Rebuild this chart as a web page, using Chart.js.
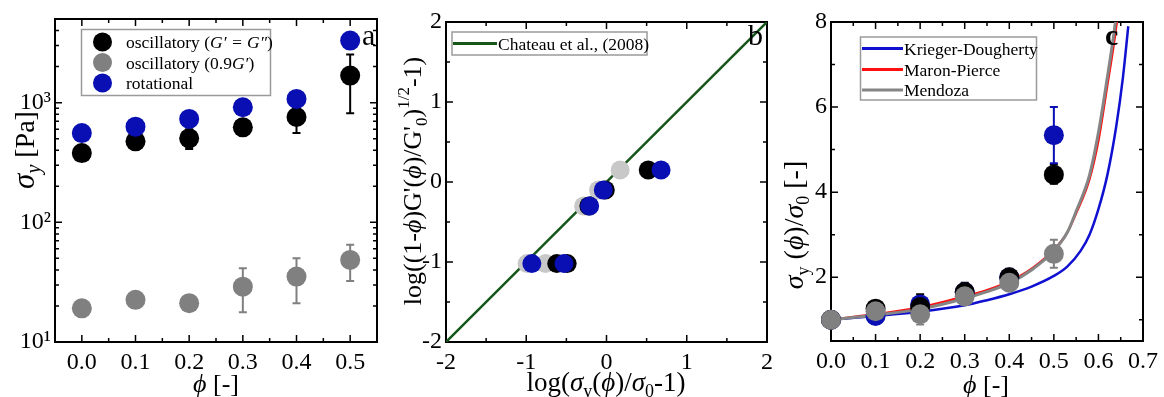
<!DOCTYPE html>
<html><head><meta charset="utf-8">
<script src="https://cdn.jsdelivr.net/npm/chart.js@4/dist/chart.umd.min.js"></script>
<style>
body{margin:0;background:#fff;width:1164px;height:397px;position:relative;overflow:hidden}
canvas{position:absolute;top:0}
</style></head>
<body>
<canvas id="ca" width="390" height="397" style="left:0"></canvas>
<canvas id="cb" width="390" height="397" style="left:390px"></canvas>
<canvas id="cc" width="384" height="397" style="left:780px"></canvas>
<script>
// ---------- Panel a data ----------
const phiA = [0.0, 0.1, 0.2, 0.3, 0.4, 0.5];
const oscGG = [379, 475, 503, 622, 759, 1683];
const oscGGLo = [null, null, 409, 550, 557, 815];
const oscGGHi = [null, null, 600, 690, 960, 2523];
const osc09 = [19.1, 22.5, 21.1, 29.0, 35.2, 48.5];
const osc09Lo = [16.3, null, null, 17.7, 21.1, 32.4];
const osc09Hi = [21.5, null, null, 41.4, 50.1, 64.8];
const rotA = [557, 630, 731, 915, 1074, 3300];
const aXTicks = [0.0, 0.1, 0.2, 0.3, 0.4, 0.5];
const aXMinor = [0.05, 0.15, 0.25, 0.35, 0.45];
const aYTicks = [10, 100, 1000];
const aYTickLabels = ['10\u00B9', '10\u00B2', '10\u00B3'];
const aYMinor = [20,30,40,50,60,70,80,90,200,300,400,500,600,700,800,900,2000,3000,4000,5000];

// ---------- Panel b data ----------
const bY = [-1.02, -1.02, -0.30, -0.10, 0.15];
const bGrayX = [-0.99, -0.76, -0.285, -0.10, 0.17];
const bBlackX = [-0.62, -0.49, -0.22, -0.015, 0.52];
const bBlueX = [-0.93, -0.53, -0.21, -0.04, 0.68];
const chateauX = [-2, 2];
const chateauY = [-2, 2];
const bTicks = [-2, -1, 0, 1, 2];
const bMinor = [-1.5, -0.5, 0.5, 1.5];

// ---------- Panel c data ----------
const phiC = [0.0, 0.1, 0.2, 0.3, 0.4, 0.5];
const cBlack = [1.0, 1.26, 1.30, 1.65, 2.0, 4.41];
const cBlackLo = [null, null, 1.1, 1.5, 1.85, 4.2];
const cBlackHi = [null, null, 1.6, 1.87, 2.15, 4.65];
const cBlue = [1.0, 1.09, 1.36, 1.65, 1.99, 5.34];
const cBlueLo = [null, null, null, null, null, 4.68];
const cBlueHi = [null, null, null, null, 2.2, 6.0];
const cGray = [1.0, 1.20, 1.13, 1.55, 1.87, 2.55];
const cGrayLo = [null, null, 0.89, null, null, 2.22];
const cGrayHi = [null, null, 1.3, null, null, 2.88];
const phiKD = [0, 0.1, 0.2, 0.3, 0.35, 0.4, 0.45, 0.5, 0.53, 0.56, 0.58, 0.6, 0.62, 0.64, 0.655, 0.667];
const valKD = [1.0, 1.09, 1.19, 1.34, 1.46, 1.6, 1.78, 2.03, 2.25, 2.62, 3.0, 3.6, 4.4, 5.55, 6.7, 7.9];
const phiMP = [0, 0.1, 0.2, 0.3, 0.35, 0.4, 0.45, 0.5, 0.53, 0.55, 0.58, 0.6, 0.62, 0.635, 0.648];
const valMP = [1.0, 1.13, 1.29, 1.55, 1.70, 1.90, 2.2, 2.65, 3.05, 3.5, 4.3, 5.2, 6.5, 7.5, 8.5];
const phiMZ = [0, 0.1, 0.2, 0.3, 0.35, 0.4, 0.45, 0.5, 0.53, 0.55, 0.58, 0.6, 0.62, 0.635, 0.645];
const valMZ = [1.0, 1.11, 1.25, 1.50, 1.66, 1.86, 2.17, 2.62, 3.05, 3.55, 4.4, 5.4, 6.7, 7.75, 8.6];
const cXTicks = [0, 0.1, 0.2, 0.3, 0.4, 0.5, 0.6, 0.7];
const cXMinor = [0.05, 0.15, 0.25, 0.35, 0.45, 0.55, 0.65];
const cYTicks = [2, 4, 6, 8];
const cYMinor = [1, 3, 5, 7];

// ---------- helpers ----------
const SERIF = '"Liberation Serif", "Times New Roman", serif';
const BLUE = '#0a0fb4', GRAY = '#808080', LGRAY = '#c8c8c8', GREEN = '#16561a';
const PHI = '\u03D5';
const LF = 17.5;
const N = (t, size, dy) => ({t, size, dy: dy || 0});
const I = (t, size, dy) => ({t, size, dy: dy || 0, i: true});
function fontStr(s) { return (s.i ? 'italic ' : '') + (s.b ? 'bold ' : '') + s.size + 'px ' + SERIF; }
function drawRich(ctx, segs, x, y, angle, align) {
  ctx.save(); ctx.translate(x, y); if (angle) ctx.rotate(angle);
  ctx.textAlign = 'left'; ctx.textBaseline = 'alphabetic'; ctx.fillStyle = '#000';
  let w = 0;
  segs.forEach(s => { ctx.font = fontStr(s); s._w = ctx.measureText(s.t).width; w += s._w; });
  let cx = align === 'left' ? 0 : -w / 2;
  segs.forEach(s => { ctx.font = fontStr(s); ctx.fillText(s.t, cx, s.dy); cx += s._w; });
  ctx.restore();
}
function pts(xs, ys) { return xs.map((v, i) => ({x: v, y: ys[i]})); }

function makeFrame(xMinor, yMinor) {
  return {
    id: 'frame',
    beforeDatasetsDraw(chart) {
      const {ctx, chartArea: a, scales: {x, y}} = chart;
      ctx.save();
      ctx.strokeStyle = '#000'; ctx.lineWidth = 1.5;
      ctx.beginPath();
      const xt = (v, len) => { const p = x.getPixelForValue(v); ctx.moveTo(p, a.bottom); ctx.lineTo(p, a.bottom - len); ctx.moveTo(p, a.top); ctx.lineTo(p, a.top + len); };
      const yt = (v, len) => { const p = y.getPixelForValue(v); ctx.moveTo(a.left, p); ctx.lineTo(a.left + len, p); ctx.moveTo(a.right, p); ctx.lineTo(a.right - len, p); };
      x.ticks.forEach(t => xt(t.value, 7));
      y.ticks.forEach(t => yt(t.value, 7));
      xMinor.forEach(v => xt(v, 4));
      yMinor.forEach(v => yt(v, 4));
      ctx.stroke();
      ctx.lineWidth = 2;
      ctx.strokeRect(a.left, a.top, a.width, a.height);
      ctx.restore();
    }
  };
}
const errPlugin = {
  id: 'errbars',
  beforeDatasetsDraw(chart) {
    const {ctx, scales: {x, y}} = chart;
    ctx.save();
    chart.data.datasets.forEach(ds => {
      if (!ds.errLo) return;
      ctx.strokeStyle = ds.errColor || ds.backgroundColor; ctx.lineWidth = 2;
      ds.data.forEach((p, i) => {
        const lo = ds.errLo[i], hi = ds.errHi[i];
        if (lo == null && hi == null) return;
        const px = x.getPixelForValue(p.x);
        const py = y.getPixelForValue(p.y);
        const ylo = lo == null ? py : y.getPixelForValue(lo);
        const yhi = hi == null ? py : y.getPixelForValue(hi);
        ctx.beginPath();
        ctx.moveTo(px, ylo); ctx.lineTo(px, yhi);
        if (lo != null) { ctx.moveTo(px - 4, ylo); ctx.lineTo(px + 4, ylo); }
        if (hi != null) { ctx.moveTo(px - 4, yhi); ctx.lineTo(px + 4, yhi); }
        ctx.stroke();
      });
    });
    ctx.restore();
  }
};
function tickFont() { return {family: SERIF, size: 24}; }
function baseOptions(pad, yW, xH) {
  return {
    responsive: false, animation: false, devicePixelRatio: 1,
    layout: {padding: {left: 0, top: pad.top, right: pad.right, bottom: 0}},
    plugins: {legend: {display: false}, tooltip: {enabled: false}},
    scales: {
      x: {type: 'linear', grid: {display: false, drawTicks: false, tickLength: 0}, border: {display: false},
          ticks: {font: tickFont(), color: '#000', padding: 6, autoSkip: false, maxRotation: 0},
          afterFit: s => { s.height = xH; }},
      y: {type: 'linear', grid: {display: false, drawTicks: false, tickLength: 0}, border: {display: false},
          ticks: {font: tickFont(), color: '#000', padding: 4, autoSkip: false},
          afterFit: s => { s.width = yW; }}
    }
  };
}

// ---------- Chart a ----------
const optA = baseOptions({top: 19, right: 13}, 55, 55);
optA.scales.x.min = -0.05; optA.scales.x.max = 0.55;
optA.scales.x.afterBuildTicks = s => { s.ticks = aXTicks.map(v => ({value: v})); };
optA.scales.x.ticks.callback = v => Number(v).toFixed(1);
optA.scales.y.type = 'logarithmic';
optA.scales.y.min = 10; optA.scales.y.max = 5000;
optA.scales.y.afterBuildTicks = s => { s.ticks = aYTicks.map(v => ({value: v})); };
optA.scales.y.ticks.callback = v => aYTickLabels[aYTicks.indexOf(v)] || '';
new Chart(document.getElementById('ca'), {
  type: 'scatter',
  data: {datasets: [
    {data: pts(phiA, rotA), backgroundColor: BLUE, borderWidth: 0, pointRadius: 10, order: 0, clip: false},
    {data: pts(phiA, oscGG), backgroundColor: '#000', borderWidth: 0, pointRadius: 10, order: 1, clip: false, errLo: oscGGLo, errHi: oscGGHi, errColor: '#000'},
    {data: pts(phiA, osc09), backgroundColor: GRAY, borderWidth: 0, pointRadius: 10, order: 2, clip: false, errLo: osc09Lo, errHi: osc09Hi, errColor: GRAY}
  ]},
  options: optA,
  plugins: [makeFrame(aXMinor, aYMinor), errPlugin, {
    id: 'decoA',
    afterDraw(chart) {
      const ctx = chart.ctx;
      drawRich(ctx, [I('\u03C3', 31), I('y', 20, 6), N(' [Pa]', 28)], 34, 150, -Math.PI / 2);
      drawRich(ctx, [I(PHI, 26), N(' [-]', 26)], 216, 392);
      drawRich(ctx, [N('a', 30)], 362, 45, 0, 'left');
      ctx.save();
      ctx.strokeStyle = '#9a9a9a'; ctx.lineWidth = 1.5;
      ctx.strokeRect(81.5, 29.5, 189, 66);
      [['#000', 42], [GRAY, 62.5], [BLUE, 83]].forEach(([c, yy]) => {
        ctx.fillStyle = c; ctx.beginPath(); ctx.arc(102.5, yy, 9.5, 0, Math.PI * 2); ctx.fill();
      });
      ctx.restore();
      drawRich(ctx, [N('oscillatory (', LF), I('G\u2032 = G\u2033', LF), N(')', LF)], 126, 48, 0, 'left');
      drawRich(ctx, [N('oscillatory (0.9', LF), I('G\u2032', LF), N(')', LF)], 126, 68.5, 0, 'left');
      drawRich(ctx, [N('rotational', LF)], 126, 89, 0, 'left');
    }
  }]
});

// ---------- Chart b ----------
const optB = baseOptions({top: 22, right: 13}, 56, 55);
optB.scales.x.min = -2; optB.scales.x.max = 2;
optB.scales.y.min = -2; optB.scales.y.max = 2;
optB.scales.x.afterBuildTicks = s => { s.ticks = bTicks.map(v => ({value: v})); };
optB.scales.y.afterBuildTicks = s => { s.ticks = bTicks.map(v => ({value: v})); };
optB.scales.x.ticks.callback = v => String(v);
optB.scales.y.ticks.callback = v => String(v);
new Chart(document.getElementById('cb'), {
  type: 'scatter',
  data: {datasets: [
    {data: pts(bBlueX, bY), backgroundColor: BLUE, borderWidth: 0, pointRadius: 9.5, order: 0, clip: false},
    {data: pts(bBlackX, bY), backgroundColor: '#000', borderWidth: 0, pointRadius: 9.5, order: 1, clip: false},
    {data: pts(bGrayX, bY), backgroundColor: LGRAY, borderWidth: 0, pointRadius: 9.5, order: 2, clip: false},
    {data: pts(chateauX, chateauY), showLine: true, borderColor: GREEN, borderWidth: 2.5, pointRadius: 0, order: 5}
  ]},
  options: optB,
  plugins: [makeFrame(bMinor, bMinor), {
    id: 'decoB',
    afterDraw(chart) {
      const ctx = chart.ctx;
      drawRich(ctx, [N('log((1-', 26), I(PHI, 26), N(')G\'(', 26), I(PHI, 26), N(')/G\'', 26), N('0', 17, 6), N(')', 26), N('1/2', 17, -12), N('-1)', 26)], 31, 181, -Math.PI / 2);
      drawRich(ctx, [N('log(', 27), I('\u03C3', 27), N('y', 18, 6), N('(', 27), I(PHI, 27), N(')/', 27), I('\u03C3', 27), N('0', 18, 6), N('-1)', 27)], 216, 391);
      drawRich(ctx, [N('b', 30)], 358, 45, 0, 'left');
      ctx.save();
      ctx.strokeStyle = '#9a9a9a'; ctx.lineWidth = 1.5;
      ctx.strokeRect(62, 32, 195, 23);
      ctx.strokeStyle = GREEN; ctx.lineWidth = 3;
      ctx.beginPath(); ctx.moveTo(63, 43.5); ctx.lineTo(107, 43.5); ctx.stroke();
      ctx.restore();
      drawRich(ctx, [N('Chateau et al., (2008)', LF)], 108, 50, 0, 'left');
    }
  }]
});

// ---------- Chart c ----------
const optC = baseOptions({top: 22, right: 12}, 51, 56);
optC.scales.x.min = 0; optC.scales.x.max = 0.7;
optC.scales.y.min = 0.5; optC.scales.y.max = 8;
optC.scales.x.afterBuildTicks = s => { s.ticks = cXTicks.map(v => ({value: v})); };
optC.scales.y.afterBuildTicks = s => { s.ticks = cYTicks.map(v => ({value: v})); };
optC.scales.x.ticks.callback = v => Number(v).toFixed(1);
optC.scales.y.ticks.callback = v => String(v);
new Chart(document.getElementById('cc'), {
  type: 'scatter',
  data: {datasets: [
    {data: pts(phiC, cGray), backgroundColor: GRAY, borderWidth: 0, pointRadius: 10, order: 0, clip: false, errLo: cGrayLo, errHi: cGrayHi, errColor: GRAY},
    {data: pts(phiC, cBlack), backgroundColor: '#000', borderWidth: 0, pointRadius: 10, order: 1, clip: false, errLo: cBlackLo, errHi: cBlackHi, errColor: '#000'},
    {data: pts(phiC, cBlue), backgroundColor: BLUE, borderWidth: 0, pointRadius: 10, order: 2, clip: false, errLo: cBlueLo, errHi: cBlueHi, errColor: BLUE},
    {data: pts(phiMZ, valMZ), showLine: true, borderColor: '#858585', borderWidth: 3, pointRadius: 0, cubicInterpolationMode: 'monotone', order: 3},
    {data: pts(phiMP, valMP), showLine: true, borderColor: '#ff1010', borderWidth: 2.2, pointRadius: 0, cubicInterpolationMode: 'monotone', order: 4},
    {data: pts(phiKD, valKD), showLine: true, borderColor: '#1010d0', borderWidth: 2.5, pointRadius: 0, cubicInterpolationMode: 'monotone', order: 5}
  ]},
  options: optC,
  plugins: [makeFrame(cXMinor, cYMinor), errPlugin, {
    id: 'decoC',
    afterDraw(chart) {
      const ctx = chart.ctx;
      drawRich(ctx, [I('\u03C3', 28), N('y', 18, 6), N(' (', 28), I(PHI, 28), N(')/', 28), I('\u03C3', 28), N('0', 18, 6), N(' [-]', 28)], 23, 225, -Math.PI / 2);
      drawRich(ctx, [I(PHI, 26), N(' [-]', 26)], 206, 393);
      drawRich(ctx, [{t: 'c', size: 30, dy: 0, b: true}], 325, 45, 0, 'left');
      ctx.save();
      ctx.strokeStyle = '#9a9a9a'; ctx.lineWidth = 1.5;
      ctx.strokeRect(80.5, 37, 176, 63);
      [['#1010d0', 48.5], ['#ff1010', 69.5], ['#858585', 90]].forEach(([c, yy]) => {
        ctx.strokeStyle = c; ctx.lineWidth = 3; ctx.beginPath(); ctx.moveTo(82, yy); ctx.lineTo(123, yy); ctx.stroke();
      });
      ctx.restore();
      drawRich(ctx, [N('Krieger-Dougherty', LF)], 124, 54.5, 0, 'left');
      drawRich(ctx, [N('Maron-Pierce', LF)], 124, 75.5, 0, 'left');
      drawRich(ctx, [N('Mendoza', LF)], 124, 96, 0, 'left');
    }
  }]
});
</script>
</body></html>
